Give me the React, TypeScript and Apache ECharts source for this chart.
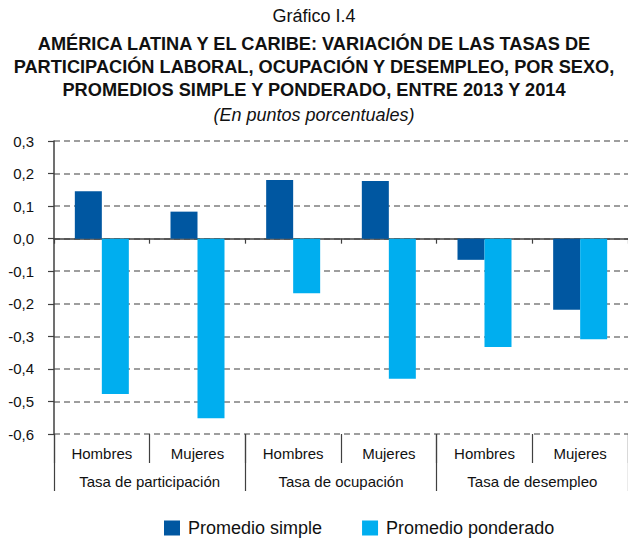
import React, { useEffect, useRef } from "react";
import * as echarts from "echarts";

const categories = ["Hombres", "Mujeres", "Hombres", "Mujeres", "Hombres", "Mujeres"];
const groups = ["Tasa de participación", "Tasa de ocupación", "Tasa de desempleo"];
const promedioSimple = [0.146, 0.083, 0.18, 0.177, -0.065, -0.218];
const promedioPonderado = [-0.477, -0.552, -0.168, -0.43, -0.333, -0.309];
const seriesNames = ["Promedio simple", "Promedio ponderado"];
const titleTop = "Gráfico I.4";
const titleMain =
  "AMÉRICA LATINA Y EL CARIBE: VARIACIÓN DE LAS TASAS DE\nPARTICIPACIÓN LABORAL, OCUPACIÓN Y DESEMPLEO, POR SEXO,\nPROMEDIOS SIMPLE Y PONDERADO, ENTRE 2013 Y 2014";
const subtitle = "(En puntos porcentuales)";

const FONT = "'Liberation Sans', Arial, Helvetica, sans-serif";
const AXIS = "#404040";

export default function App() {
  const ref = useRef<HTMLDivElement>(null);
  useEffect(() => {
    if (!ref.current) return;
    const chart = echarts.init(ref.current, null, { renderer: "svg" });
    chart.setOption({
      animation: false,
      backgroundColor: "#ffffff",
      textStyle: { fontFamily: FONT },
      title: [
        {
          text: titleTop,
          left: "center",
          top: 7,
          padding: 0,
          textStyle: { fontFamily: FONT, fontSize: 18, fontWeight: "normal", color: "#111" },
        },
        {
          text: titleMain,
          left: "center",
          top: 32,
          padding: 0,
          textStyle: { fontFamily: FONT, fontSize: 18.2, fontWeight: "bold", color: "#111", lineHeight: 23 },
        },
        {
          text: subtitle,
          left: "center",
          top: 106,
          padding: 0,
          textStyle: { fontFamily: FONT, fontSize: 18, fontWeight: "normal", fontStyle: "italic", color: "#111" },
        },
      ],
      legend: {
        left: 164,
        top: 518,
        itemWidth: 16,
        itemHeight: 15,
        itemGap: 40,
        icon: "rect",
        padding: 0,
        textStyle: { fontFamily: FONT, fontSize: 18, lineHeight: 20, color: "#111", padding: [0, 0, 0, 3] },
        data: seriesNames,
      },
      grid: { left: 54, top: 141, width: 583, height: 293 },
      xAxis: [
        {
          type: "category",
          data: categories,
          position: "bottom",
          axisLine: { show: true, onZero: true, lineStyle: { color: AXIS, width: 1.5 } },
          axisTick: { show: true, interval: 0, length: 5, lineStyle: { color: AXIS, width: 1.2 } },
          axisLabel: { show: false },
          splitLine: { show: false },
        },
        {
          type: "category",
          data: categories,
          position: "bottom",
          axisLine: { show: false, onZero: false },
          axisTick: { show: true, interval: 0, length: 29, lineStyle: { color: AXIS, width: 1.2 } },
          axisLabel: { show: true, interval: 0, margin: 12, fontSize: 15, color: "#111", fontFamily: FONT },
          splitLine: { show: false },
        },
        {
          type: "category",
          data: groups,
          position: "bottom",
          axisLine: { show: false, onZero: false },
          axisTick: { show: true, interval: 0, length: 57, lineStyle: { color: AXIS, width: 1.2 } },
          axisLabel: { show: true, interval: 0, margin: 40, fontSize: 15, color: "#111", fontFamily: FONT },
          splitLine: { show: false },
        },
      ],
      yAxis: {
        type: "value",
        min: -0.6,
        max: 0.3,
        interval: 0.1,
        axisLine: { show: true, lineStyle: { color: AXIS, width: 1.5 } },
        axisTick: { show: true, length: 6, lineStyle: { color: AXIS, width: 1.2 } },
        axisLabel: {
          fontSize: 15,
          color: "#111",
          margin: 20,
          fontFamily: FONT,
          formatter: (v: number) => (Math.abs(v) < 1e-9 ? 0 : v).toFixed(1).replace(".", ","),
        },
        splitLine: { show: true, lineStyle: { color: "#7f7f7f", width: 1.5, type: [6, 4] } },
      },
      series: [
        {
          name: seriesNames[0],
          type: "bar",
          xAxisIndex: 0,
          data: promedioSimple,
          barWidth: 27,
          barGap: "0%",
          itemStyle: { color: "#0057A1" },
        },
        {
          name: seriesNames[1],
          type: "bar",
          xAxisIndex: 0,
          data: promedioPonderado,
          barWidth: 27,
          barGap: "0%",
          itemStyle: { color: "#00AEEF" },
        },
      ],
    });
    return () => chart.dispose();
  }, []);
  return (
    <div
      ref={ref}
      style={{ position: "fixed", left: 0, top: 0, width: 628, height: 539 }}
    />
  );
}
